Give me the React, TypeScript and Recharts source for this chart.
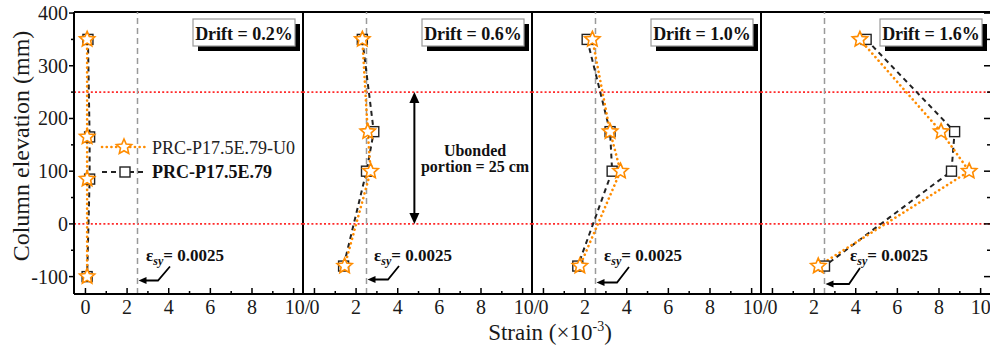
import React from 'react';
import { LineChart, Line, XAxis, YAxis, ReferenceLine, Customized } from 'recharts';

// ---------------- data ----------------
const elevationDrift02 = [350, 165, 85, -100];
const elevationOther = [350, 175, 100, -80];

const u0Drift02 = [0.08, 0.08, 0.08, 0.08];
const refDrift02 = [0.12, 0.2, 0.2, 0.08];
const u0Drift06 = [2.3, 2.56, 2.7, 1.45];
const refDrift06 = [2.3, 2.85, 2.5, 1.4];
const u0Drift10 = [2.35, 3.2, 3.7, 1.75];
const refDrift10 = [2.1, 3.2, 3.3, 1.65];
const u0Drift16 = [4.2, 8.1, 9.45, 2.2];
const refDrift16 = [4.5, 8.75, 8.6, 2.5];

const driftLabels = ['Drift = 0.2%', 'Drift = 0.6%', 'Drift = 1.0%', 'Drift = 1.6%'];
const seriesNames = ['PRC-P17.5E.79-U0', 'PRC-P17.5E.79'];
const xTicks = [0, 1, 2, 3, 4, 5, 6, 7, 8, 9, 10];
const yTicks = [-100, -50, 0, 50, 100, 150, 200, 250, 300, 350, 400];
const unbondedTop = 250;
const unbondedBottom = 0;
const yieldStrain = 2.5;
const yieldLabel = '= 0.0025';
const unbondedText = ['Ubonded', 'portion = 25 cm'];

// ---------------- layout ----------------
const W = 990;
const H = 349;
const TOP = 12;
const BOTTOM = 294;
const PANEL_LEFTS = [74, 303, 532, 761];
const PANEL_W = 229;
const X_DOMAIN: [number, number] = [-0.55, 10.45];
const Y_DOMAIN: [number, number] = [-133, 402];
const FONT = "'Liberation Serif', 'Times New Roman', serif";
const ORANGE = '#FF8C00';

const px = (v: number, p: number) =>
  PANEL_LEFTS[p] + ((v - X_DOMAIN[0]) / (X_DOMAIN[1] - X_DOMAIN[0])) * PANEL_W;
const py = (v: number) =>
  BOTTOM - ((v - Y_DOMAIN[0]) / (Y_DOMAIN[1] - Y_DOMAIN[0])) * (BOTTOM - TOP);

const toPoints = (xs: number[], ys: number[]) => xs.map((x, i) => ({ x, y: ys[i] }));

const panels = [
  { u0: toPoints(u0Drift02, elevationDrift02), ref: toPoints(refDrift02, elevationDrift02) },
  { u0: toPoints(u0Drift06, elevationOther), ref: toPoints(refDrift06, elevationOther) },
  { u0: toPoints(u0Drift10, elevationOther), ref: toPoints(refDrift10, elevationOther) },
  { u0: toPoints(u0Drift16, elevationOther), ref: toPoints(refDrift16, elevationOther) },
];

// eps annotation offsets (relative to panel left)
const EPS_LAYOUT = [
  { tx: 72, sx: 96, sy: 266.5, bx: 84, by: 280.5 },
  { tx: 71, sx: 96, sy: 266, bx: 85, by: 279.5 },
  { tx: 72, sx: 97, sy: 267, bx: 85, by: 282.5 },
  { tx: 89, sx: 99, sy: 268, bx: 88, by: 284 },
];

function starPath(cx: number, cy: number, R: number, r: number) {
  let d = '';
  for (let i = 0; i < 10; i++) {
    const a = -Math.PI / 2 + (i * Math.PI) / 5;
    const rad = i % 2 === 0 ? R : r;
    d += (i === 0 ? 'M' : 'L') + (cx + rad * Math.cos(a)).toFixed(2) + ',' + (cy + rad * Math.sin(a)).toFixed(2);
  }
  return d + 'Z';
}

const renderStar = (p: any) => (
  <path key={`st-${p.index}`} d={starPath(p.cx, p.cy, 8, 3.7)} fill="#fff" stroke={ORANGE} strokeWidth={1.6} />
);
const renderSquare = (p: any) => (
  <rect key={`sq-${p.index}`} x={p.cx - 5} y={p.cy - 5} width={10} height={10} fill="#fff" stroke="#222" strokeWidth={1.4} />
);

const makeXTick = (last: boolean) => (props: any) => {
  const { x, y, payload } = props;
  const v = payload.value;
  const major = v % 2 === 0;
  return (
    <g>
      <line x1={x} y1={BOTTOM} x2={x} y2={BOTTOM - (major ? 6 : 3)} stroke="#000" strokeWidth={1.5} />
      {major &&
        (v === 10 && !last ? (
          <text x={x - 9} y={BOTTOM + 20} textAnchor="start" fontFamily={FONT} fontSize={20} fill="#1a1a1a">
            10/
          </text>
        ) : (
          <text x={x} y={BOTTOM + 20} textAnchor="middle" fontFamily={FONT} fontSize={20} fill="#1a1a1a">
            {v}
          </text>
        ))}
    </g>
  );
};

const LeftYTick = (props: any) => {
  const { y, payload } = props;
  const v = payload.value;
  const major = v % 100 === 0;
  const ax = PANEL_LEFTS[0];
  return (
    <g>
      <line x1={ax} y1={y} x2={ax - (major ? 5 : 3)} y2={y} stroke="#000" strokeWidth={1.5} />
      {major && (
        <text x={ax - 6} y={y + 7} textAnchor="end" fontFamily={FONT} fontSize={20} fill="#1a1a1a">
          {v}
        </text>
      )}
    </g>
  );
};

const RightYTick = (props: any) => {
  const { y, payload } = props;
  const v = payload.value;
  const major = v % 100 === 0;
  return (
    <g>
      <line x1={W} y1={y} x2={W - (major ? 6 : 3)} y2={y} stroke="#000" strokeWidth={1.5} />
    </g>
  );
};

const PanelAnnot = ({ p }: { p: number }) => {
  const L = PANEL_LEFTS[p];
  const e = EPS_LAYOUT[p];
  const bx = L + 119;
  return (
    <g>
      {/* drift box */}
      <rect x={bx + 5} y={24} width={102} height={27} fill="#000" />
      <rect x={bx} y={19} width={102} height={27} fill="#fff" stroke="#9a9a9a" strokeWidth={1.2} />
      <text x={bx + 51} y={40} textAnchor="middle" fontFamily={FONT} fontSize={18} fontWeight="bold" fill="#111">
        {driftLabels[p]}
      </text>
      {/* yield strain annotation */}
      <text x={L + e.tx} y={261} fontFamily={FONT} fontSize={17} fontWeight="bold" fill="#111">
        <tspan>ε</tspan>
        <tspan dy={4} fontSize={12} fontStyle="italic">sy</tspan>
        <tspan dy={-4}>{yieldLabel}</tspan>
      </text>
      <polyline
        points={`${L + e.sx},${e.sy} ${L + e.bx},${e.by} ${px(yieldStrain, p) + 7},${e.by}`}
        fill="none"
        stroke="#000"
        strokeWidth={1.8}
      />
      <path
        d={`M${px(yieldStrain, p) + 1},${e.by} L${px(yieldStrain, p) + 9},${e.by - 3.5} L${px(yieldStrain, p) + 9},${e.by + 3.5} Z`}
        fill="#000"
      />
    </g>
  );
};

const GlobalAnnot = () => {
  const ax = px(4.8, 1);
  const yT = py(unbondedTop);
  const yB = py(unbondedBottom);
  return (
    <g>
      {/* legend */}
      <line x1={102} y1={147} x2={146} y2={147} stroke={ORANGE} strokeWidth={2.6} strokeDasharray="0.1 4.6" strokeLinecap="round" />
      <path d={starPath(124, 147, 8, 3.7)} fill="#fff" stroke={ORANGE} strokeWidth={1.6} />
      <text x={152} y={154} fontFamily={FONT} fontSize={18} fill="#222">
        {seriesNames[0]}
      </text>
      <line x1={102} y1={172} x2={146} y2={172} stroke="#222" strokeWidth={2} strokeDasharray="5 4" />
      <rect x={120} y={167} width={10} height={10} fill="#fff" stroke="#222" strokeWidth={1.4} />
      <text x={152} y={178} fontFamily={FONT} fontSize={18} fontWeight="bold" fill="#111">
        {seriesNames[1]}
      </text>
      {/* unbonded portion arrow */}
      <line x1={ax} y1={yT + 9} x2={ax} y2={yB - 9} stroke="#000" strokeWidth={2} />
      <path d={`M${ax},${yT} L${ax - 5},${yT + 11} L${ax + 5},${yT + 11} Z`} fill="#000" />
      <path d={`M${ax},${yB} L${ax - 5},${yB - 11} L${ax + 5},${yB - 11} Z`} fill="#000" />
      <text x={475} y={156} textAnchor="middle" fontFamily={FONT} fontSize={16} fontWeight="bold" fill="#111">
        {unbondedText[0]}
      </text>
      <text x={475} y={172} textAnchor="middle" fontFamily={FONT} fontSize={16} fontWeight="bold" fill="#111">
        {unbondedText[1]}
      </text>
      {/* axis titles */}
      <text x={550} y={340} textAnchor="middle" fontFamily={FONT} fontSize={23} fill="#1a1a1a">
        Strain (×10<tspan dy={-9} fontSize={14}>-3</tspan>
        <tspan dy={9}>)</tspan>
      </text>
      <text
        x={0}
        y={0}
        transform="translate(29,146) rotate(-90)"
        textAnchor="middle"
        fontFamily={FONT}
        fontSize={24}
        fill="#1a1a1a"
      >
        Column elevation (mm)
      </text>
    </g>
  );
};

const Panel = ({ p }: { p: number }) => {
  const left = PANEL_LEFTS[p];
  const right = W - (left + PANEL_W);
  const first = p === 0;
  const last = p === 3;
  const data = panels[p];
  return (
    <LineChart
      width={W}
      height={H}
      margin={{ top: TOP, bottom: 15, left: first ? left - 60 : left, right: Math.max(right, 0) }}
      style={{ position: 'absolute', left: 0, top: 0 }}
    >
      <XAxis
        type="number"
        dataKey="x"
        domain={X_DOMAIN}
        ticks={xTicks}
        interval={0}
        height={40}
        tickSize={0}
        tickMargin={0}
        tickLine={false}
        tick={makeXTick(last)}
        axisLine={{ stroke: '#000', strokeWidth: 2 }}
        allowDataOverflow
      />
      {first ? (
        <YAxis
          type="number"
          domain={Y_DOMAIN}
          ticks={yTicks}
          interval={0}
          width={60}
          tickSize={0}
          tickMargin={0}
          tickLine={false}
          tick={<LeftYTick />}
          axisLine={{ stroke: '#000', strokeWidth: 2 }}
          allowDataOverflow
        />
      ) : (
        <YAxis type="number" domain={Y_DOMAIN} hide allowDataOverflow />
      )}
      {last && (
        <YAxis
          yAxisId="right"
          orientation="right"
          mirror
          type="number"
          domain={Y_DOMAIN}
          ticks={yTicks}
          interval={0}
          tickSize={0}
          tickMargin={0}
          tickLine={false}
          axisLine={false}
          tick={<RightYTick />}
          allowDataOverflow
        />
      )}
      <ReferenceLine y={Y_DOMAIN[1]} stroke="#000" strokeWidth={2} />
      {!last && <ReferenceLine x={X_DOMAIN[1]} stroke="#000" strokeWidth={2} />}
      <ReferenceLine y={unbondedTop} stroke="#FF2A2A" strokeWidth={1.6} strokeDasharray="2 2.2" />
      <ReferenceLine y={unbondedBottom} stroke="#FF2A2A" strokeWidth={1.6} strokeDasharray="2 2.2" />
      <ReferenceLine x={yieldStrain} stroke="#9a9a9a" strokeWidth={1.5} strokeDasharray="6 4" />
      <Line
        data={data.ref}
        dataKey="y"
        type="linear"
        stroke="#222"
        strokeWidth={2}
        strokeDasharray="5 4"
        dot={renderSquare}
        activeDot={false}
        isAnimationActive={false}
      />
      <Line
        data={data.u0}
        dataKey="y"
        type="linear"
        stroke={ORANGE}
        strokeWidth={2.6}
        strokeDasharray="0.1 4.6"
        strokeLinecap="round"
        dot={renderStar}
        activeDot={false}
        isAnimationActive={false}
      />
      <Customized component={<PanelAnnot p={p} />} />
      {last && <Customized component={<GlobalAnnot />} />}
    </LineChart>
  );
};

export default function App() {
  return (
    <div style={{ position: 'absolute', left: 0, top: 0, width: W, height: H, background: '#fff', overflow: 'hidden' }}>
      {[0, 1, 2, 3].map((p) => (
        <Panel key={p} p={p} />
      ))}
    </div>
  );
}
